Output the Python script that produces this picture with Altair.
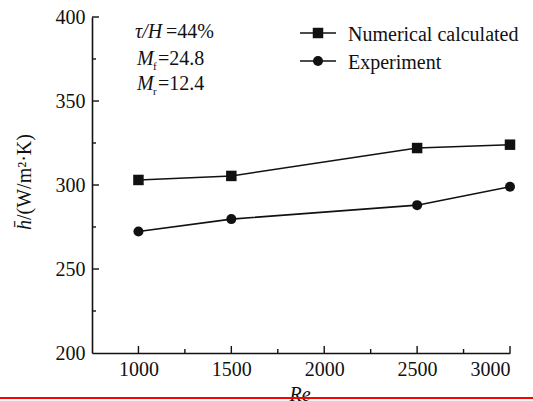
import altair as alt
import pandas as pd

# Reynolds numbers and average heat transfer coefficient (W/m^2·K)
re_values = [1000, 1500, 2500, 3000]
numerical = [303.0, 305.4, 322.0, 324.0]
experiment = [272.3, 279.7, 288.0, 299.0]

x_major = [1000, 1500, 2000, 2500, 3000]
x_minor = [1250, 1750, 2250, 2750]
y_major = [250, 300, 350, 400]
y_minor = [225, 275, 325, 375]

FONT = "Liberation Serif, Times New Roman, DejaVu Serif, serif"
W, H = 418, 336

df_num = pd.DataFrame({"Re": re_values, "h": numerical})
df_exp = pd.DataFrame({"Re": re_values, "h": experiment})

xs = alt.Scale(domain=[750, 3000], nice=False, zero=False)
ys = alt.Scale(domain=[200, 400], nice=False, zero=False)

x_axis = alt.Axis(values=x_major, ticks=False, grid=False, title=None, format="d",
                  labelFont=FONT, labelFontSize=20, labelColor="#111",
                  labelPadding=6, domainColor="#111", domainWidth=1.6)
y_axis = alt.Axis(values=[200] + y_major, ticks=False, grid=False, title=None, format="d",
                  labelFont=FONT, labelFontSize=20, labelColor="#111",
                  labelPadding=7, domainColor="#111", domainWidth=1.6)

base_num = alt.Chart(df_num).encode(
    x=alt.X("Re:Q", scale=xs, axis=x_axis),
    y=alt.Y("h:Q", scale=ys, axis=y_axis),
)
base_exp = alt.Chart(df_exp).encode(
    x=alt.X("Re:Q", scale=xs),
    y=alt.Y("h:Q", scale=ys),
)

line_num = base_num.mark_line(color="#111", strokeWidth=1.6)
pts_num = base_num.mark_point(shape="square", filled=True, size=110, color="#111", opacity=1)
line_exp = base_exp.mark_line(color="#111", strokeWidth=1.6)
pts_exp = base_exp.mark_point(shape="circle", filled=True, size=100, color="#111", opacity=1)

# inward-facing tick marks
xmaj = alt.Chart(pd.DataFrame({"v": x_major})).mark_rule(color="#111", strokeWidth=1.4).encode(
    x=alt.X("v:Q", scale=xs), y=alt.value(H), y2=alt.value(H - 7))
xmin = alt.Chart(pd.DataFrame({"v": x_minor})).mark_rule(color="#111", strokeWidth=1.4).encode(
    x=alt.X("v:Q", scale=xs), y=alt.value(H), y2=alt.value(H - 4))
ymaj = alt.Chart(pd.DataFrame({"v": y_major})).mark_rule(color="#111", strokeWidth=1.4).encode(
    y=alt.Y("v:Q", scale=ys), x=alt.value(0), x2=alt.value(7))
ymin = alt.Chart(pd.DataFrame({"v": y_minor})).mark_rule(color="#111", strokeWidth=1.4).encode(
    y=alt.Y("v:Q", scale=ys), x=alt.value(0), x2=alt.value(4))

def label(text, x, y, size=20, style="normal", angle=0, align="left"):
    return alt.Chart(pd.DataFrame({"t": [text]})).mark_text(
        font=FONT, fontSize=size, fontStyle=style, color="#111",
        align=align, baseline="alphabetic", angle=angle,
    ).encode(text="t:N", x=alt.value(x), y=alt.value(y))

# legend
leg = []
for i, (name, shape, sz) in enumerate([("Numerical calculated", "square", 110),
                                        ("Experiment", "circle", 100)]):
    yy = 16 + 28 * i
    leg.append(alt.Chart(pd.DataFrame({"k": [name]})).mark_rule(color="#111", strokeWidth=1.6).encode(
        x=alt.value(208), x2=alt.value(244), y=alt.value(yy)))
    leg.append(alt.Chart(pd.DataFrame({"k": [name]})).mark_point(
        shape=shape, filled=True, size=sz, color="#111", opacity=1).encode(
        x=alt.value(226), y=alt.value(yy)))
    leg.append(label(name, 256, yy + 8))

# parameter annotation
notes = [
    label("τ/H", 43, 21, style="italic"),
    label("=44%", 74, 21),
    label("M", 45, 48, style="italic"),
    label("f", 61, 53, size=11),
    label("=24.8", 66, 48),
    label("M", 45, 73, style="italic"),
    label("r", 61, 78, size=11),
    label("=12.4", 66, 73),
]

# axis titles
titles = [
    label("Re", 208, 384, style="italic", align="center"),
    label("h̄", -61, 213, style="italic", angle=270),
    label("/(W/m²·K)", -61, 203, angle=270),
]

red = alt.Chart(pd.DataFrame({"k": [0]})).mark_rule(color="#ff0000", strokeWidth=2).encode(
    x=alt.value(-92), x2=alt.value(441), y=alt.value(381))

chart = alt.layer(
    line_num, line_exp, pts_num, pts_exp, xmaj, xmin, ymaj, ymin,
    *leg, *notes, *titles, red,
).properties(
    width=W, height=H,
    autosize=alt.AutoSizeParams(type="none"),
    padding={"left": 92, "top": 17, "right": 23, "bottom": 48},
    background="white",
).configure_view(stroke=None)

chart.save("out.html", embed_options={"renderer": "svg", "actions": False})
